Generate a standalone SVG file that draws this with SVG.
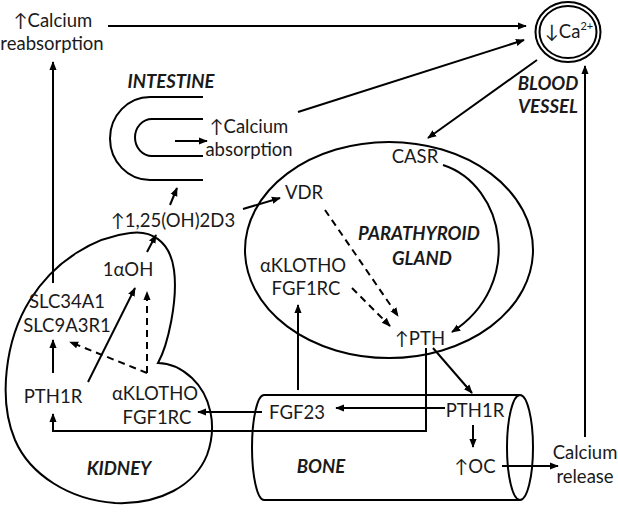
<svg xmlns="http://www.w3.org/2000/svg" width="618" height="514" viewBox="0 0 618 514">
<defs>
<style>
.t{font-family:Lato,"Liberation Sans",sans-serif;font-size:18.5px;fill:#1a1a1a;text-anchor:middle}
.b{font-family:Lato,"Liberation Sans",sans-serif;font-size:18.5px;font-weight:bold;font-style:italic;fill:#1a1a1a;text-anchor:middle}
.s{fill:none;stroke:#000;stroke-width:2}
.c{fill:none;stroke:#000;stroke-width:2;marker-end:url(#ah)}
.d{stroke-dasharray:7 5}
</style>
<marker id="ah" viewBox="0 0 10 10" refX="9" refY="5" markerWidth="9" markerHeight="9" markerUnits="userSpaceOnUse" orient="auto"><path d="M0,1 L10,5 L0,9 z" fill="#000"/></marker>
</defs>
<rect width="618" height="514" fill="#fff"/>

<g id="blood-vessel">
<ellipse class="s" cx="568" cy="32" rx="32.5" ry="30"/>
<ellipse class="s" cx="568" cy="32" rx="28.5" ry="26"/>
<text class="t" x="545" y="38" style="text-anchor:start">↓Ca<tspan font-size="11" dy="-8">2+</tspan></text>
<text class="b" x="548" y="90">BLOOD</text>
<text class="b" x="548" y="113">VESSEL</text>
</g>

<g id="calcium-reabsorption">
<text class="t" x="53" y="27">↑Calcium</text>
<text class="t" x="52" y="50">reabsorption</text>
</g>

<g id="intestine">
<path class="s" d="M203,97 H150 A40,41.5 0 0 0 150,180 H203"/>
<path class="s" d="M203,119 H152 A17,18.5 0 0 0 152,156 H203"/>
<text class="b" x="171" y="88">INTESTINE</text>
<text class="t" x="249" y="133">↑Calcium</text>
<text class="t" x="249" y="156">absorption</text>
</g>

<g id="vitamin-d">
<text class="t" x="173" y="227">↑1,25(OH)2D3</text>
</g>

<g id="parathyroid-gland">
<ellipse class="s" cx="389" cy="250" rx="144" ry="108"/>
<text class="t" x="415" y="163">CASR</text>
<text class="t" x="304" y="199">VDR</text>
<text class="b" x="419" y="240">PARATHYROID</text>
<text class="b" x="422" y="265">GLAND</text>
<text class="t" x="303" y="272">αKLOTHO</text>
<text class="t" x="306" y="295">FGF1RC</text>
<text class="t" x="420" y="345">↑PTH</text>
</g>

<g id="kidney">
<path class="s" d="M158,363 C168,345 178,300 174,270 C170,240 150,230 130,233 C95,237 55,260 30,300 C5,340 -2,400 15,440 C30,475 70,500 115,503 C160,505 195,485 207,455 C218,425 210,395 192,378 C180,367 168,363 158,363 Z"/>
<text class="t" x="128" y="276">1αOH</text>
<text class="t" x="67" y="308">SLC34A1</text>
<text class="t" x="67" y="332">SLC9A3R1</text>
<text class="t" x="53" y="403">PTH1R</text>
<text class="t" x="155" y="400">αKLOTHO</text>
<text class="t" x="157" y="424">FGF1RC</text>
<text class="b" x="119" y="475">KIDNEY</text>
</g>

<g id="bone">
<path class="s" d="M264,395 H520 M264,500 H520 M264,395 A12,52.5 0 0 0 264,500"/>
<ellipse class="s" cx="520" cy="447.5" rx="13" ry="52.5"/>
<text class="t" x="297" y="419">FGF23</text>
<text class="b" x="321" y="473">BONE</text>
<text class="t" x="475" y="417">PTH1R</text>
<text class="t" x="475" y="473">↑OC</text>
</g>

<g id="calcium-release">
<text class="t" x="585" y="459">Calcium</text>
<text class="t" x="585" y="483">release</text>
</g>

<g id="connectors">
<path class="c" d="M53,283 V62"/>
<path class="c" d="M108,26 H526"/>
<path class="c" d="M298,112 L524,40"/>
<path class="c" d="M537,60 L428,138"/>
<path class="c" d="M585,437 V66"/>
<path class="c" d="M175,141 H207"/>
<path class="c" d="M170,205 L177,188"/>
<path class="c" d="M147,252 L156,235"/>
<path class="c" d="M243,209 L280,198"/>
<path class="c" d="M88,382 L135,288"/>
<path class="c" d="M53,373 V340"/>
<path class="c d" d="M147,373 V292"/>
<path class="c d" d="M147,373 L70,342"/>
<path class="c d" d="M325,210 L398,316"/>
<path class="c d" d="M352,288 L390,326"/>
<path class="c" d="M443,165 C505,185 525,285 452,332"/>
<path class="c" d="M426,348 V431 H53 V414"/>
<path class="c" d="M433,348 L472,393"/>
<path class="c" d="M445,408 H336"/>
<path class="c" d="M262,412 H198"/>
<path class="c" d="M298,390 V305"/>
<path class="c" d="M473,425 V447"/>
<path class="c" d="M502,466 H558"/>
</g>
</svg>
